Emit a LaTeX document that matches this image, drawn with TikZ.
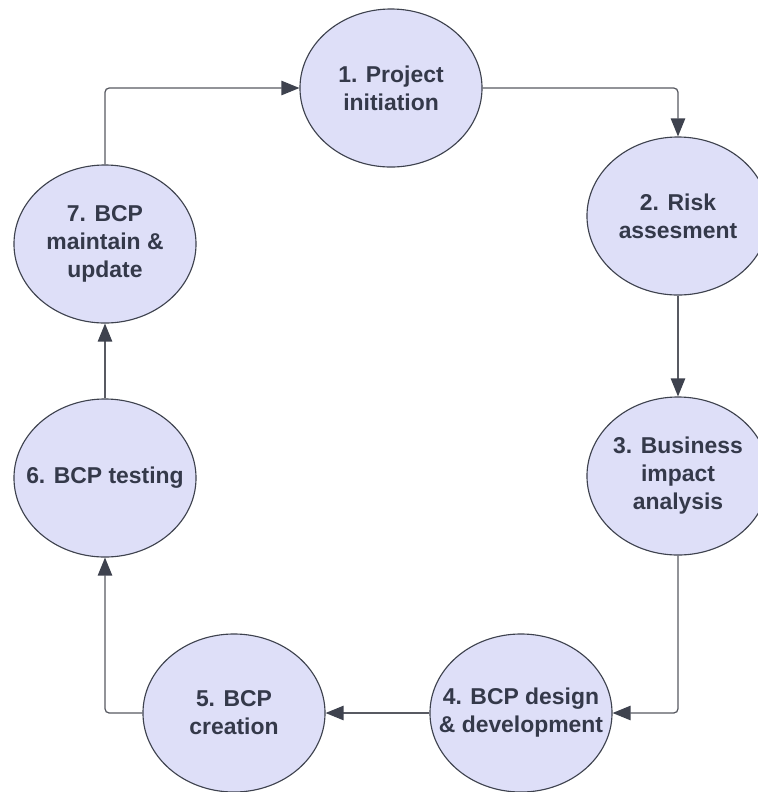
\documentclass[tikz,border=0pt]{standalone}
\usepackage{fontspec}
\setmainfont{Liberation Sans}
\usetikzlibrary{shapes.geometric,arrows.meta}
\definecolor{phasefill}{RGB}{222,223,248}
\definecolor{phaseline}{RGB}{62,66,78}
\definecolor{phasetext}{RGB}{52,57,74}
\definecolor{flowline}{RGB}{88,90,98}

\begin{document}
\begin{tikzpicture}[x=0.025cm,y=-0.025cm,
    phase/.style={ellipse,draw=phaseline,fill=phasefill,line width=0.8pt,
        minimum width=4.55cm,minimum height=3.95cm,inner xsep=-0.7cm,inner ysep=0pt,
        align=center,text=phasetext,font=\fontsize{16.3}{19.9}\selectfont\bfseries},
    flow/.style={draw=flowline,line width=0.9pt,rounded corners=3pt,
        -{Triangle[length=0.45cm,width=0.36cm,color=phaseline]}}]
    \useasboundingbox (0,0) rectangle (758,792);
    \fill[white] (0,0) rectangle (758,792);
    \node[phase] (init) at (391,88) {1. Project\\initiation};
    \node[phase] (risk) at (678,216) {2. Risk\\assesment};
    \node[phase] (bia) at (678,476) {3. Business\\impact\\analysis};
    \node[phase] (design) at (521,713) {4. BCP design\\\& development};
    \node[phase] (create) at (234,713) {5. BCP\\creation};
    \node[phase] (test) at (105,478) {6. BCP testing};
    \node[phase] (maint) at (105,244) {7. BCP\\maintain \&\\update};
    \draw[flow] (maint.north) |- (init.west);
    \draw[flow] (init.east) -| (risk.north);
    \draw[flow] (risk.south) -- (bia.north);
    \draw[flow] (bia.south) |- (design.east);
    \draw[flow] (design.west) -- (create.east);
    \draw[flow] (create.west) -| (test.south);
    \draw[flow] (test.north) -- (maint.south);
\end{tikzpicture}
\end{document}
